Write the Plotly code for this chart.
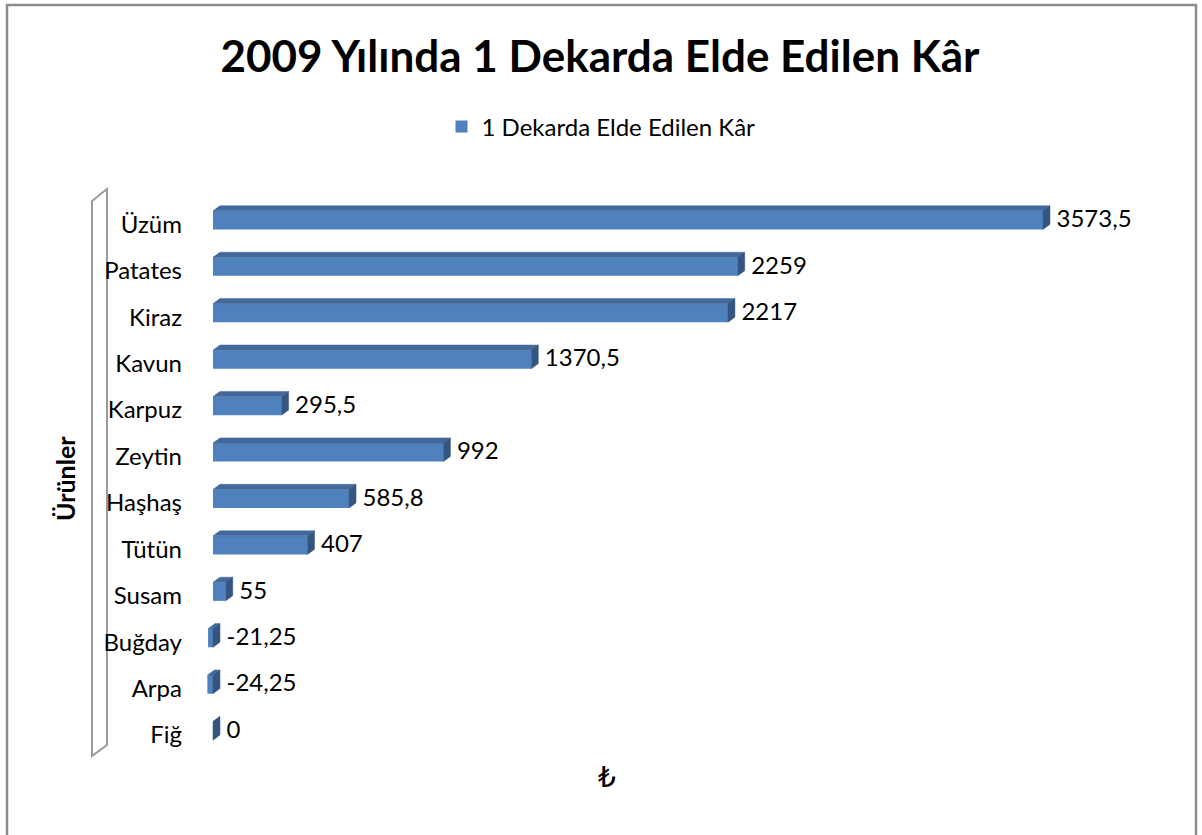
import plotly.graph_objects as go

# ---- data (top to bottom as shown) ----
categories = ["Üzüm", "Patates", "Kiraz", "Kavun", "Karpuz", "Zeytin",
              "Haşhaş", "Tütün", "Susam", "Buğday", "Arpa", "Fiğ"]
values = [3573.5, 2259, 2217, 1370.5, 295.5, 992, 585.8, 407, 55, -21.25, -24.25, 0]
series_name = "1 Dekarda Elde Edilen Kâr"
title_text = "2009 Yılında 1 Dekarda Elde Edilen Kâr"
y_title = "Ürünler"
x_title = "₺"

FONT = "Lato, 'DejaVu Sans', sans-serif"
FRONT = "#4F81BD"
TOP = "#43699C"
SIDE = "#34557F"

n = len(categories)
ypos = [n - 1 - i for i in range(n)]
labels = [f"{v:g}".replace(".", ",") for v in values]

# geometry in screen pixels
W, H = 1202, 835
L, R, T, B = 190, 1150, 183, 768
XMIN, XMAX = -99, 4034
YMIN, YMAX = -0.8, n - 1 + 0.8

half = 0.2     # half bar thickness (category units)
dx = 30        # 3D depth in value units
dy = 0.11      # 3D depth in category units
gap = 28       # label gap in value units
tick_shift = 0.09


def px2paper(px, py):
    return (px - L) / (R - L), (B - py) / (B - T)


fig = go.Figure()

fig.add_trace(go.Bar(
    x=values, y=ypos, orientation="h", width=2 * half,
    marker=dict(color=FRONT, line=dict(width=0)),
    name=series_name, showlegend=True, hoverinfo="skip",
))

# top faces
tx, ty = [], []
for v, y in zip(values, ypos):
    a, b = min(v, 0), max(v, 0)
    tx += [a, b, b + dx, a + dx, a, None]
    ty += [y + half, y + half, y + half + dy, y + half + dy, y + half, None]
fig.add_trace(go.Scatter(x=tx, y=ty, mode="lines", fill="toself",
                         fillcolor=TOP, line=dict(width=0.5, color=TOP),
                         showlegend=False, hoverinfo="skip"))

# side faces
sx, sy = [], []
for v, y in zip(values, ypos):
    b = max(v, 0)
    sx += [b, b, b + dx, b + dx, b, None]
    sy += [y - half, y + half, y + half + dy, y - half + dy, y - half, None]
fig.add_trace(go.Scatter(x=sx, y=sy, mode="lines", fill="toself",
                         fillcolor=SIDE, line=dict(width=0.5, color=SIDE),
                         showlegend=False, hoverinfo="skip"))

# data labels
fig.add_trace(go.Scatter(
    x=[max(v, 0) + dx + gap for v in values], y=[y - 0.02 for y in ypos],
    mode="text", text=labels, textposition="middle right",
    textfont=dict(family=FONT, size=24, color="black"),
    showlegend=False, hoverinfo="skip", cliponaxis=False,
))

# chart border
bx0, by0 = px2paper(7, 845)
bx1, by1 = px2paper(1196, 5)
fig.add_shape(type="rect", xref="paper", yref="paper",
              x0=bx0, y0=by0, x1=bx1, y1=by1,
              line=dict(color="#8C8C8C", width=2.5), layer="below")

# side wall outline
p1 = px2paper(92, 201)
p2 = px2paper(107, 189)
p3 = px2paper(107, 745)
p4 = px2paper(92, 756)
path = (f"M {p1[0]},{p1[1]} L {p2[0]},{p2[1]} L {p3[0]},{p3[1]} "
        f"L {p4[0]},{p4[1]} Z")
fig.add_shape(type="path", xref="paper", yref="paper", path=path,
              line=dict(color="#9A9A9A", width=2), layer="below")

# axis titles
ax, ay = px2paper(65, 478)
fig.add_annotation(x=ax, y=ay, xref="paper", yref="paper", text=f"<b>{y_title}</b>",
                   textangle=-90, showarrow=False, xanchor="center", yanchor="middle",
                   font=dict(family=FONT, size=25, color="black"))
tx_, ty_ = px2paper(607, 777)
fig.add_annotation(x=tx_, y=ty_, xref="paper", yref="paper", text=x_title,
                   showarrow=False, xanchor="center", yanchor="middle",
                   font=dict(family="'DejaVu Sans', sans-serif",
                             size=28, color="black"))

fig.update_layout(
    width=W, height=H,
    margin=dict(l=L, r=W - R, t=T, b=H - B, pad=0),
    paper_bgcolor="white", plot_bgcolor="white",
    title=dict(text=f"<b>{title_text}</b>", x=600 / W, xref="container",
               xanchor="center",
               y=1 - 57 / H, yref="container", yanchor="middle",
               font=dict(family=FONT, size=44, color="black")),
    legend=dict(orientation="h", x=601 / W, xref="container", xanchor="center",
                y=1 - 127 / H, yref="container", yanchor="middle",
                itemwidth=30,
                font=dict(family=FONT, size=24, color="black")),
    xaxis=dict(range=[XMIN, XMAX], showticklabels=False, showgrid=False,
               zeroline=False, showline=False, ticks=""),
    yaxis=dict(range=[YMIN, YMAX], tickvals=[y - tick_shift for y in ypos],
               ticktext=categories,
               showgrid=False, zeroline=False, showline=False, ticks="",
               ticklabelstandoff=7,
               tickfont=dict(family=FONT, size=24, color="black")),
    showlegend=True,
)

fig.write_html("out.html", config={"displayModeBar": False},
               post_script="document.body.style.margin='0';")
